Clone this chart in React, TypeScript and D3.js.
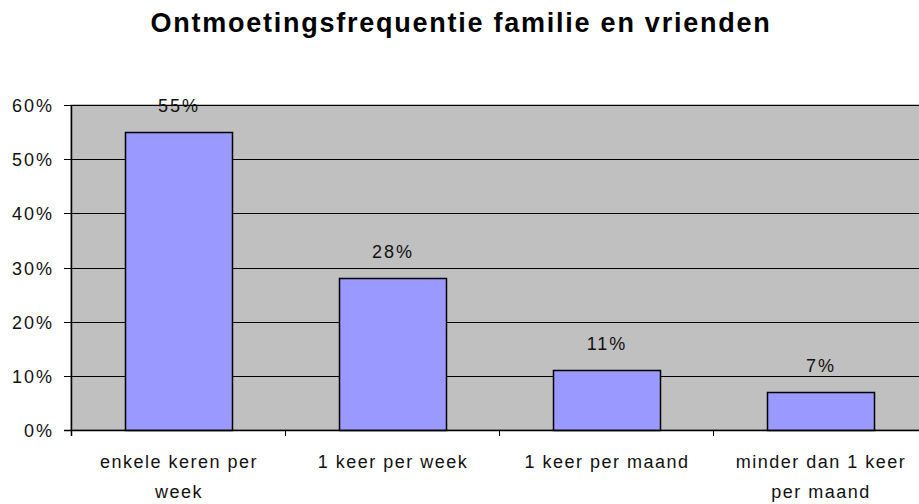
import React from "react";
import * as d3 from "d3";

const categories: string[][] = [
  ["enkele keren per", "week"],
  ["1 keer per week"],
  ["1 keer per maand"],
  ["minder dan 1 keer", "per maand"],
];
const values: number[] = [0.55, 0.28, 0.11, 0.07];
const labels: string[] = ["55%", "28%", "11%", "7%"];
const yTicks: number[] = [0, 0.1, 0.2, 0.3, 0.4, 0.5, 0.6];
const title = "Ontmoetingsfrequentie familie en vrienden";

export default function App() {
  const W = 919, H = 504;
  const left = 71, right = 927, top = 105, bottom = 430;
  const x = d3.scaleBand<number>().domain(values.map((_, i) => i)).range([left, right]).paddingInner(0.5).paddingOuter(0.25);
  const edge = d3.scaleLinear().domain([0, values.length]).range([left, right]);
  const y = d3.scaleLinear().domain([0, 0.6]).range([bottom, top]);
  const font = "'Liberation Sans', Arial, sans-serif";
  return (
    <svg width={W} height={H} style={{ position: "absolute", left: 0, top: 0, background: "#fff" }} fontFamily={font}>
      <rect x={0} y={0} width={W} height={H} fill="#fff" />
      <text x={461} y={32} textAnchor="middle" fontSize={27} fontWeight="bold" letterSpacing={1.75} fill="#000">{title}</text>
      <rect x={left} y={top} width={right - left} height={bottom - top} fill="#C0C0C0" stroke="#808080" strokeWidth={1} />
      {yTicks.map((t) => (
        <g key={t}>
          {t > 0 && <line x1={left} x2={right} y1={Math.round(y(t)) + 0.5} y2={Math.round(y(t)) + 0.5} stroke="#000" />}
          <line x1={left - 7} x2={left} y1={Math.round(y(t)) + 0.5} y2={Math.round(y(t)) + 0.5} stroke="#000" />
          <text x={54} y={y(t) + 7} textAnchor="end" fontSize={18} letterSpacing={2} fill="#111">{d3.format(".0%")(t)}</text>
        </g>
      ))}
      {values.map((v, i) => (
        <g key={i}>
          <rect x={Math.round(x(i)!) + 0.5} y={Math.round(y(v)) + 0.5} width={Math.round(x.bandwidth())} height={Math.round(bottom - y(v))} fill="#9999FF" stroke="#000" strokeWidth={1.5} />
          <text x={x(i)! + x.bandwidth() / 2 + 1} y={y(v) - 20} textAnchor="middle" fontSize={18} letterSpacing={2} fill="#111">{labels[i]}</text>
          {categories[i].map((line, j) => (
            <text key={j} x={x(i)! + x.bandwidth() / 2 + 1} y={468 + j * 30} textAnchor="middle" fontSize={18} letterSpacing={1.5} fill="#111">{line}</text>
          ))}
        </g>
      ))}
      <line x1={left + 0.5} x2={left + 0.5} y1={top} y2={bottom + 6} stroke="#000" strokeWidth={1.5} />
      <line x1={left - 7} x2={right} y1={bottom + 0.5} y2={bottom + 0.5} stroke="#000" strokeWidth={1.5} />
      {d3.range(values.length + 1).map((k) => (
        <line key={k} x1={Math.round(edge(k)) + 0.5} x2={Math.round(edge(k)) + 0.5} y1={bottom} y2={bottom + 6} stroke="#000" />
      ))}
    </svg>
  );
}
